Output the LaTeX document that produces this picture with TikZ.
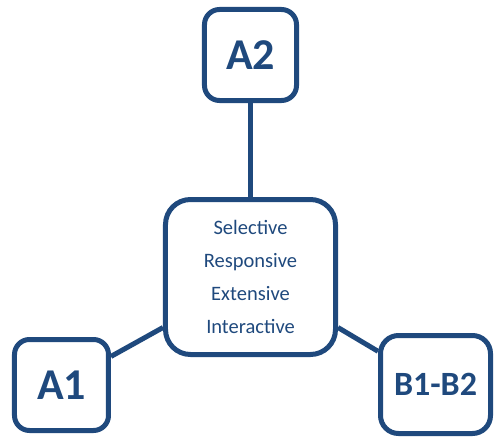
\documentclass[tikz,border=0pt]{standalone}
\usepackage{fontspec}
\setmainfont{Carlito}
\usepackage{tikz}
\usetikzlibrary{positioning}
\definecolor{lvlblue}{HTML}{1F497D}

\begin{document}
\begin{tikzpicture}[
		lvl/.style={draw=lvlblue, line width=5pt, rounded corners=15pt, text=lvlblue, inner sep=0pt,
			font=\bfseries\fontsize{44}{44}\selectfont},
		link/.style={draw=lvlblue, line width=5pt}
	]
		\useasboundingbox (-250.5pt,-160pt) rectangle (244.5pt,277pt);
		\node (c)                                   [lvl, minimum width=170pt, minimum height=155pt, rounded corners=25pt,
			font=\fontsize{20.5}{33}\selectfont, align=center] {Selective\\Responsive\\Extensive\\Interactive};
		\node (a2) [above      =94pt of c]          [lvl, minimum width=92pt, minimum height=91pt] {A2};
		\node (a1) [below left =-20pt and 52pt of c] [lvl, minimum width=94pt, minimum height=91pt] {A1};
		\node (b)  [below right=-24pt and 40pt of c] [lvl, minimum width=110pt, minimum height=98pt, rounded corners=18pt,
			font=\bfseries\fontsize{34}{34}\selectfont] {B1-B2};
		\draw [link] (a2) -- (c);
		\draw [link] (a1.30) -- (c.210);
		\draw [link] (b.150) -- (c.330);
\end{tikzpicture}
\end{document}
